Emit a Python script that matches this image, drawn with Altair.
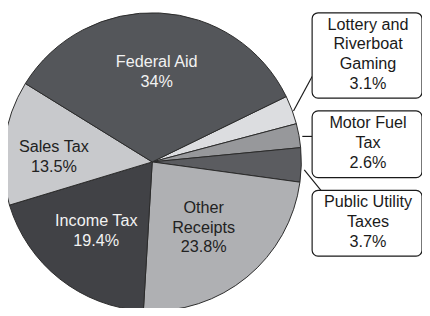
import math
import altair as alt
import pandas as pd

# ---- data ----
categories = ["Lottery and Riverboat Gaming", "Motor Fuel Tax", "Public Utility Taxes",
              "Other Receipts", "Income Tax", "Sales Tax", "Federal Aid"]
shares = [3.1, 2.6, 3.7, 23.8, 19.4, 13.5, 34.0]
share_text = ["3.1%", "2.6%", "3.7%", "23.8%", "19.4%", "13.5%", "34%"]
label_lines = [["Lottery and", "Riverboat", "Gaming"], ["Motor Fuel", "Tax"],
               ["Public Utility", "Taxes"], ["Other", "Receipts"], ["Income Tax"],
               ["Sales Tax"], ["Federal Aid"]]

# ---- styles ----
palette = ["#dcdde0", "#97989b", "#5b5c60", "#afb0b3", "#414246", "#c8c9cc", "#54565a"]
FONT = "Liberation Sans"
FS = 16.5
LH = 20.2
CX, CY, R = 147, 154, 152
START = math.radians(64)

df = pd.DataFrame({
    "cat": categories,
    "share": shares,
    "order": list(range(len(categories))),
    "label": ["\n".join(l + [p]) for l, p in zip(label_lines, share_text)],
})
nlines = {c: len(l) + 1 for c, l in zip(categories, label_lines)}

base = alt.Chart(df).encode(
    theta=alt.Theta("share:Q", stack=True,
                    scale=alt.Scale(range=[START, START + 2 * math.pi])),
    order=alt.Order("order:Q"),
    detail="cat:N",
    x=alt.value(CX),
    y=alt.value(CY),
)

pie = base.mark_arc(outerRadius=R, stroke="#2b2b2b", strokeWidth=1).encode(
    color=alt.Color("cat:N", scale=alt.Scale(domain=categories, range=palette), legend=None)
)

layers = [pie]
inner = [("Federal Aid", 0, 0, "#f2f2f2"),
         ("Income Tax", 0, -1.5, "#f2f2f2"),
         ("Sales Tax", -9, 7, "#222222"),
         ("Other Receipts", -6, -4, "#222222")]
for cat, dx, dy, col in inner:
    shift = -(nlines[cat] - 1) * LH / 2
    layers.append(
        base.transform_calculate(t=f"datum.cat == '{cat}' ? datum.label : ''")
        .mark_text(radius=92, dx=dx, dy=dy + shift, lineBreak="\n", lineHeight=LH,
                   fontSize=FS, font=FONT, color=col, align="center", baseline="middle")
        .encode(text="t:N")
    )

one = pd.DataFrame({"k": [0]})
# leader lines
for (x1, y1, x2, y2) in [(291, 102, 310, 67), (300, 128, 310, 128), (302, 162, 319, 183)]:
    layers.append(alt.Chart(one).mark_rule(color="#1a1a1a", strokeWidth=1.2).encode(
        x=alt.value(x1), y=alt.value(y1), x2=alt.value(x2), y2=alt.value(y2)))

# callout boxes
boxes = [("Lottery and Riverboat Gaming", 2, 89),
         ("Motor Fuel Tax", 102, 170),
         ("Public Utility Taxes", 183, 250)]
for cat, y1, y2 in boxes:
    layers.append(alt.Chart(one).mark_rect(fill="white", stroke="#1a1a1a", strokeWidth=1.2,
                                           cornerRadius=6).encode(
        x=alt.value(310), x2=alt.value(422), y=alt.value(y1), y2=alt.value(y2)))
    ymid = (y1 + y2) / 2 - (nlines[cat] - 1) * LH / 2 - 1
    layers.append(alt.Chart(df).transform_filter(f"datum.cat == '{cat}'")
                  .mark_text(lineBreak="\n", lineHeight=LH, fontSize=FS, font=FONT,
                             color="#1a1a1a", align="center", baseline="middle")
                  .encode(text="label:N", x=alt.value(367), y=alt.value(ymid)))

chart = alt.layer(*layers).properties(
    width=422, height=300, autosize="none", padding=0, background="white"
).configure_view(stroke=None)

chart.save("out.html", embed_options={"renderer": "svg", "actions": False})
